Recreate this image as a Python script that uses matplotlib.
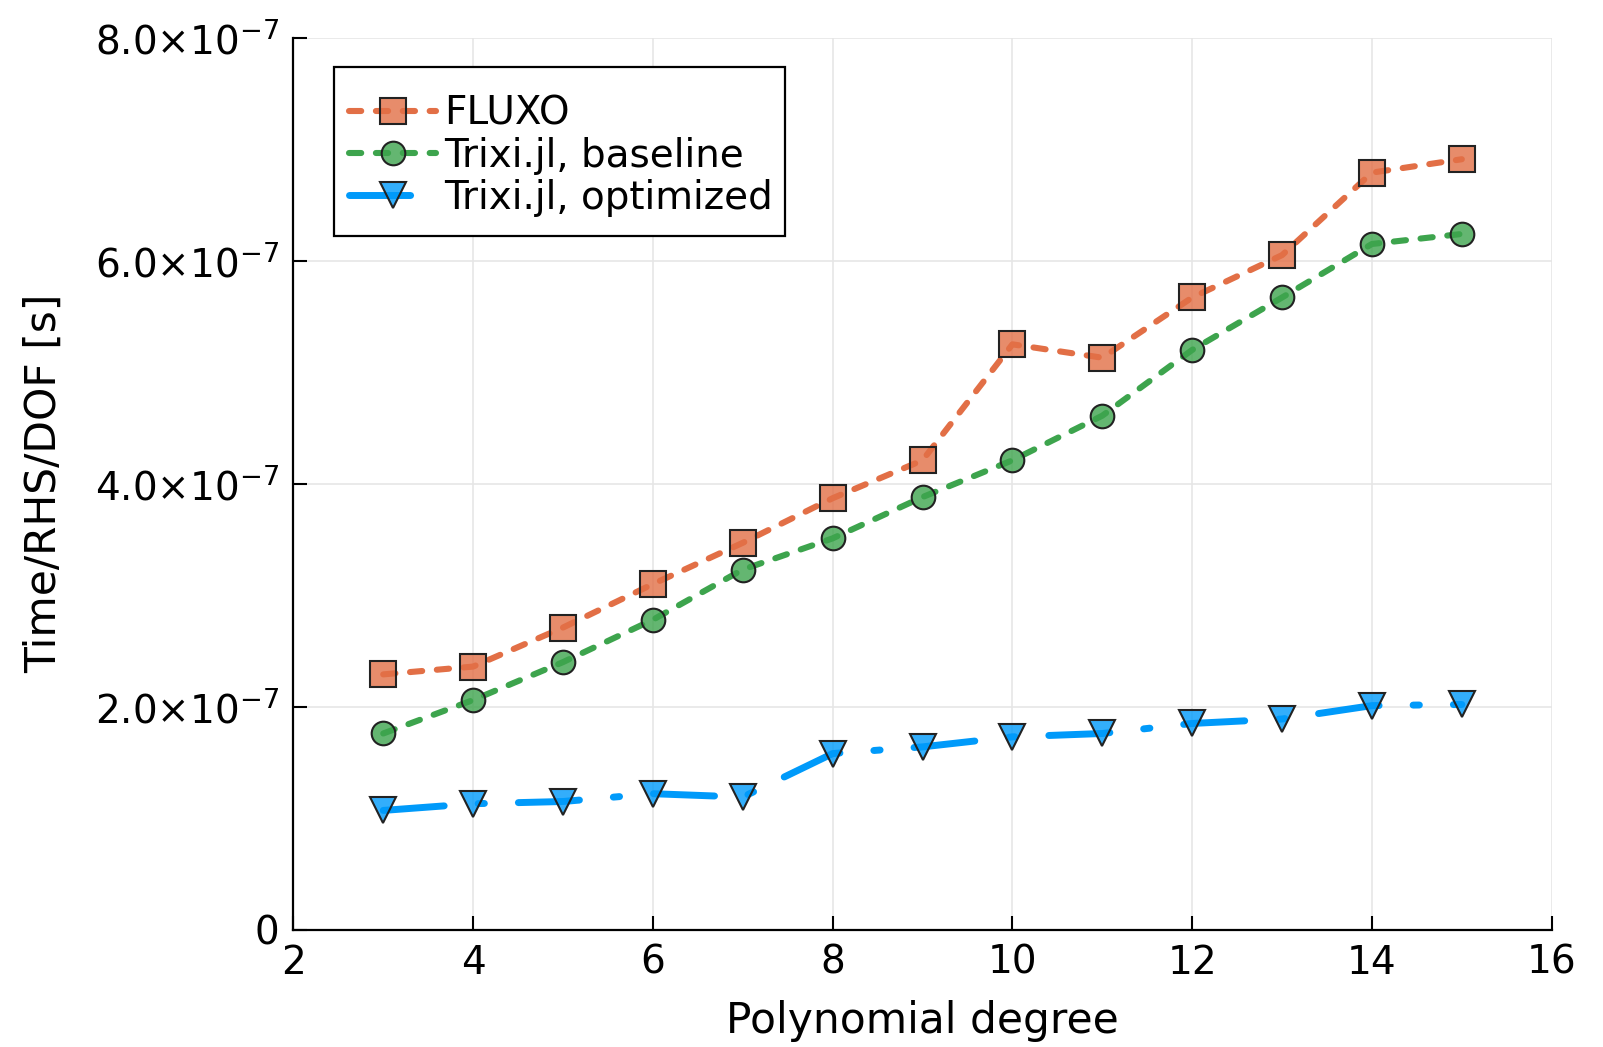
import numpy as np
import matplotlib
matplotlib.use("Agg")
import matplotlib.pyplot as plt
from matplotlib.ticker import FuncFormatter
from matplotlib.patches import Rectangle

plt.rcParams["font.family"] = ["DejaVu Sans"]
plt.rcParams["mathtext.fontset"] = "dejavusans"

degree = [3, 4, 5, 6, 7, 8, 9, 10, 11, 12, 13, 14, 15]
fluxo = [2.29, 2.36, 2.71, 3.10, 3.47, 3.87, 4.21, 5.25, 5.13, 5.67, 6.05, 6.79, 6.91]
baseline = [1.76, 2.06, 2.40, 2.78, 3.23, 3.51, 3.88, 4.21, 4.61, 5.20, 5.67, 6.15, 6.24]
optimized = [1.07, 1.13, 1.15, 1.22, 1.19, 1.58, 1.64, 1.73, 1.76, 1.85, 1.89, 2.01, 2.02]
scale = 1e-7

c_fluxo, c_base, c_opt = "#E26F46", "#3DA44D", "#009AFA"

fig = plt.figure(figsize=(16.03, 10.47), dpi=100)
ax = fig.add_axes([0.183, 0.112, 0.785, 0.852])

def fc(c, a=0.8):
    rgb = matplotlib.colors.to_rgb(c)
    return (*rgb, a)

ax.plot(degree, np.array(fluxo) * scale, color=c_fluxo, lw=4.4, ls=(0, (2.0, 2.4)),
        dash_capstyle="round", marker="s", ms=18.5, mfc=fc(c_fluxo), mec="#222222",
        mew=1.5, label="FLUXO", zorder=3)
ax.plot(degree, np.array(baseline) * scale, color=c_base, lw=4.4, ls=(0, (2.0, 2.4)),
        dash_capstyle="round", marker="o", ms=17, mfc=fc(c_base), mec="#222222",
        mew=1.5, label="Trixi.jl, baseline", zorder=3)
ax.plot(degree, np.array(optimized) * scale, color=c_opt, lw=5.0, ls=(0, (8.8, 4.9, 0.9, 4.9)),
        dash_capstyle="round", marker="v", ms=18.5, mfc=fc(c_opt), mec="#222222",
        mew=1.5, label="Trixi.jl, optimized", zorder=3)

ax.set_xlim(2, 16)
ax.set_ylim(0, 8e-7)
ax.set_xticks([2, 4, 6, 8, 10, 12, 14, 16])
ax.set_yticks([0, 2e-7, 4e-7, 6e-7, 8e-7])

def yfmt(v, pos):
    if v == 0:
        return "0"
    return r"%.1f$\times$10$^{\mathregular{-7}}$" % (v / 1e-7)

ax.yaxis.set_major_formatter(FuncFormatter(yfmt))
ax.tick_params(direction="in", length=10, width=1.5, labelsize=28, pad=10)
ax.grid(True, color="#e6e6e6", lw=1.2)
ax.set_axisbelow(True)
for s in ["top", "right"]:
    ax.spines[s].set_visible(False)
for s in ["left", "bottom"]:
    ax.spines[s].set_linewidth(1.6)

ax.set_xlabel("Polynomial degree", fontsize=30.5, labelpad=13)
ax.set_ylabel("Time/RHS/DOF [s]", fontsize=30.5, labelpad=22)

# legend frame drawn by hand: the reference has more vertical than horizontal padding
ax.add_patch(Rectangle((0.0325, 0.778), 0.3582, 0.189, transform=ax.transAxes,
                       facecolor="white", edgecolor="black", lw=1.6, zorder=5))
leg = ax.legend(loc="upper left", bbox_to_anchor=(0.0445, 0.936), borderaxespad=0,
                fontsize=28, frameon=False, handlelength=2.24, handletextpad=0.2,
                borderpad=0, labelspacing=0.1)
leg.set_zorder(6)

fig.savefig("out.png", dpi=100)
